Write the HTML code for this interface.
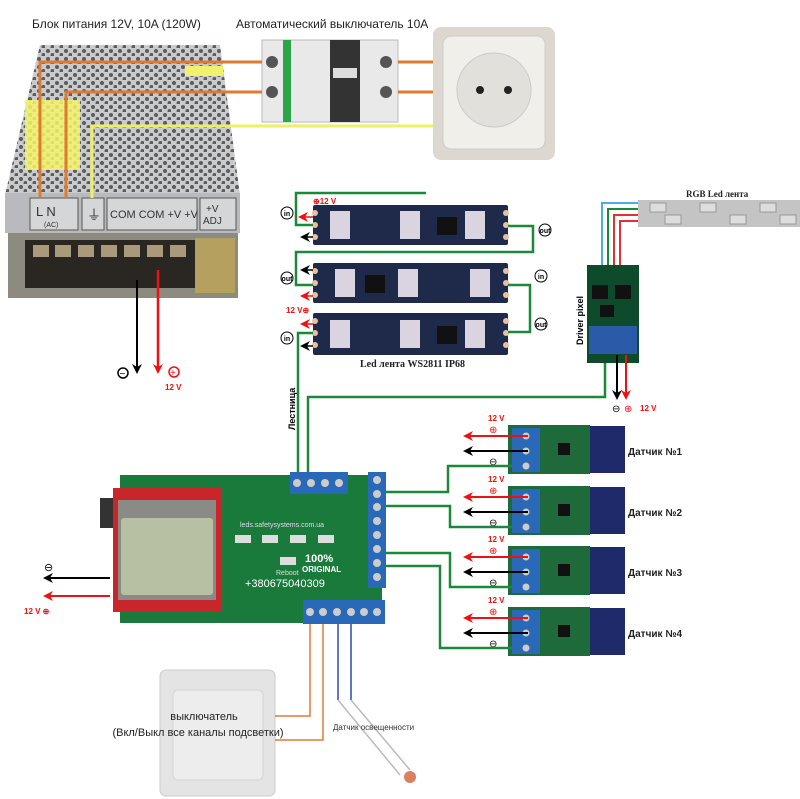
<!DOCTYPE html>
<html><head><meta charset="utf-8"><style>
html,body{margin:0;padding:0;background:#fff}
svg{display:block;font-family:"Liberation Sans",sans-serif}
</style></head><body>
<svg width="800" height="799" viewBox="0 0 800 799" xmlns="http://www.w3.org/2000/svg">
<defs>
<pattern id="perf" width="9" height="8" patternUnits="userSpaceOnUse">
<rect width="9" height="8" fill="#c9cbcd"/><circle cx="3" cy="3" r="2" fill="#5a5c60"/><circle cx="7.5" cy="7" r="2" fill="#5a5c60"/>
</pattern>
<marker id="ar" markerUnits="userSpaceOnUse" markerWidth="10" markerHeight="10" refX="8" refY="5" orient="auto"><path d="M0,0 L10,5 L0,10 L3,5 Z" fill="#e11"/></marker>
<marker id="ab" markerUnits="userSpaceOnUse" markerWidth="10" markerHeight="10" refX="8" refY="5" orient="auto"><path d="M0,0 L10,5 L0,10 L3,5 Z" fill="#000"/></marker>
</defs>

<text x="32" y="28" font-size="12" fill="#222">Блок питания 12V, 10A (120W)</text>
<text x="236" y="28" font-size="12" fill="#222">Автоматический выключатель 10А</text>

<!-- PSU -->
<polygon points="40,45 220,45 240,195 5,195" fill="url(#perf)"/>
<rect x="5" y="193" width="235" height="40" fill="#b8babd"/>
<rect x="30" y="198" width="48" height="32" fill="#d5d6d8" stroke="#555"/>
<rect x="82" y="198" width="22" height="32" fill="#d5d6d8" stroke="#555"/>
<rect x="107" y="198" width="90" height="32" fill="#d5d6d8" stroke="#555"/>
<rect x="200" y="198" width="36" height="32" fill="#d5d6d8" stroke="#555"/>
<text x="36" y="216" font-size="13" fill="#333">L  N</text>
<text x="44" y="227" font-size="7" fill="#333">(AC)</text>
<text x="87" y="220" font-size="14" fill="#333">⏚</text>
<text x="110" y="218" font-size="11" fill="#333">COM COM +V +V</text>
<text x="206" y="212" font-size="10" fill="#333">+V</text>
<text x="203" y="224" font-size="10" fill="#333">ADJ</text>
<rect x="8" y="233" width="230" height="65" fill="#8d8a80"/>
<rect x="25" y="240" width="172" height="48" fill="#2a2622"/>
<g fill="#a89a7a"><rect x="33" y="245" width="16" height="12"/><rect x="55" y="245" width="16" height="12"/><rect x="78" y="245" width="16" height="12"/><rect x="101" y="245" width="16" height="12"/><rect x="124" y="245" width="16" height="12"/><rect x="147" y="245" width="16" height="12"/><rect x="170" y="245" width="16" height="12"/></g>
<rect x="195" y="238" width="40" height="55" fill="#b5a060"/>
<rect x="185" y="66" width="38" height="10" fill="#f2f26a"/>
<rect x="25" y="100" width="55" height="70" fill="#f4f46a" opacity=".85"/>

<!-- breaker -->
<rect x="262" y="40" width="136" height="82" fill="#e9e9e9" stroke="#bbb"/>
<rect x="283" y="40" width="8" height="82" fill="#2ca44a"/>
<rect x="330" y="40" width="30" height="82" fill="#333"/>
<rect x="333" y="68" width="24" height="10" fill="#ddd"/>
<circle cx="272" cy="62" r="6" fill="#555"/><circle cx="272" cy="92" r="6" fill="#555"/>
<circle cx="386" cy="62" r="6" fill="#555"/><circle cx="386" cy="92" r="6" fill="#555"/>

<!-- socket -->
<rect x="433" y="27" width="122" height="133" rx="8" fill="#dcd8d0"/>
<rect x="443" y="36" width="102" height="113" rx="8" fill="#f1efea" stroke="#ccc"/>
<circle cx="494" cy="90" r="37" fill="#e2e0da" stroke="#ccc"/>
<circle cx="480" cy="90" r="4" fill="#222"/><circle cx="508" cy="90" r="4" fill="#222"/>

<g fill="none" stroke-width="3">
<polyline points="40,198 40,62 262,62" stroke="#e07a30"/>
<polyline points="66,198 66,92 262,92" stroke="#e07a30"/>
<line x1="398" y1="62" x2="433" y2="62" stroke="#e07a30"/>
<line x1="398" y1="92" x2="433" y2="92" stroke="#e07a30"/>
<polyline points="92,198 92,126 433,126" stroke="#efef60"/>
</g>
<line x1="137" y1="280" x2="137" y2="372" stroke="#000" stroke-width="2" marker-end="url(#ab)"/>
<line x1="158" y1="270" x2="158" y2="372" stroke="#e11" stroke-width="2.5" marker-end="url(#ar)"/>
<circle cx="123" cy="373" r="5" fill="none" stroke="#000" stroke-width="1.5"/><text x="119.5" y="377" font-size="10">−</text>
<circle cx="174" cy="372" r="5" fill="none" stroke="#e11" stroke-width="1.5"/><text x="170" y="376" font-size="10" fill="#e11">+</text>
<text x="165" y="390" font-size="8" fill="#e11" font-weight="bold">12 V</text>

<!-- LED strips -->
<g fill="#1f2a4a">
<rect x="313" y="205" width="195" height="40" rx="2"/>
<rect x="313" y="263" width="195" height="40" rx="2"/>
<rect x="313" y="313" width="195" height="42" rx="2"/>
</g>
<g fill="#d9d4df">
<rect x="330" y="211" width="20" height="28"/><rect x="400" y="211" width="20" height="28"/><rect x="465" y="211" width="20" height="28"/>
<rect x="335" y="269" width="20" height="28"/><rect x="398" y="269" width="20" height="28"/><rect x="470" y="269" width="20" height="28"/>
<rect x="330" y="320" width="20" height="28"/><rect x="400" y="320" width="20" height="28"/><rect x="465" y="320" width="20" height="28"/>
</g>
<g fill="#111"><rect x="437" y="217" width="20" height="18"/><rect x="365" y="275" width="20" height="18"/><rect x="437" y="326" width="20" height="18"/></g>
<g fill="#e8c0a0"><circle cx="315" cy="213" r="3"/><circle cx="315" cy="225" r="3"/><circle cx="315" cy="237" r="3"/><circle cx="506" cy="213" r="3"/><circle cx="506" cy="225" r="3"/><circle cx="506" cy="237" r="3"/>
<circle cx="315" cy="271" r="3"/><circle cx="315" cy="283" r="3"/><circle cx="315" cy="295" r="3"/><circle cx="506" cy="271" r="3"/><circle cx="506" cy="283" r="3"/><circle cx="506" cy="295" r="3"/>
<circle cx="315" cy="321" r="3"/><circle cx="315" cy="333" r="3"/><circle cx="315" cy="345" r="3"/><circle cx="506" cy="321" r="3"/><circle cx="506" cy="333" r="3"/><circle cx="506" cy="345" r="3"/></g>
<text x="360" y="367" font-size="10" font-weight="bold" fill="#222" font-family="Liberation Serif,serif">Led лента WS2811 IP68</text>

<g fill="none" stroke="#1a8a3a" stroke-width="2.5">
<polyline points="426,193 296,193 296,225 313,225"/>
<polyline points="508,226 533,226 533,252 296,252 296,285 313,285"/>
<polyline points="508,285 530,285 530,332 508,332"/>
<polyline points="313,333 298,333 298,472"/>
<polyline points="308,472 308,397 605,397 605,363"/>
</g>
<g font-size="7" font-weight="bold" text-anchor="middle">
<circle cx="287" cy="213" r="6" fill="#fff" stroke="#000"/><text x="287" y="216">in</text>
<circle cx="287" cy="278" r="6" fill="#fff" stroke="#000"/><text x="287" y="281">out</text>
<circle cx="287" cy="338" r="6" fill="#fff" stroke="#000"/><text x="287" y="341">in</text>
<circle cx="545" cy="230" r="6" fill="#fff" stroke="#000"/><text x="545" y="233">out</text>
<circle cx="541" cy="276" r="6" fill="#fff" stroke="#000"/><text x="541" y="279">in</text>
<circle cx="541" cy="324" r="6" fill="#fff" stroke="#000"/><text x="541" y="327">out</text>
</g>
<g stroke-width="1.5">
<line x1="313" y1="217" x2="300" y2="217" stroke="#e11" marker-end="url(#ar)"/>
<line x1="313" y1="237" x2="302" y2="237" stroke="#000" marker-end="url(#ab)"/>
<line x1="313" y1="296" x2="302" y2="296" stroke="#e11" marker-end="url(#ar)"/>
<line x1="313" y1="324" x2="302" y2="324" stroke="#e11" marker-end="url(#ar)"/>
<line x1="313" y1="346" x2="302" y2="346" stroke="#000" marker-end="url(#ab)"/>
<line x1="313" y1="270" x2="302" y2="270" stroke="#000" marker-end="url(#ab)"/>
</g>
<text x="313" y="204" font-size="8" fill="#e11" font-weight="bold">⊕12 V</text>
<text x="286" y="313" font-size="8" fill="#e11" font-weight="bold">12 V⊕</text>

<!-- RGB strip -->
<text x="686" y="197" font-size="9" font-weight="bold" fill="#222" font-family="Liberation Serif,serif">RGB Led лента</text>
<rect x="638" y="200" width="162" height="27" fill="#c4c4c4"/>
<g fill="#ddd" stroke="#999"><rect x="650" y="203" width="16" height="9"/><rect x="700" y="203" width="16" height="9"/><rect x="760" y="203" width="16" height="9"/><rect x="665" y="215" width="16" height="9"/><rect x="730" y="215" width="16" height="9"/><rect x="780" y="215" width="16" height="9"/></g>
<g fill="none" stroke-width="2">
<polyline points="638,203 602,203 602,270" stroke="#4ab0d8"/>
<polyline points="638,209 608,209 608,270" stroke="#1a8a3a"/>
<polyline points="638,215 614,215 614,270" stroke="#d33"/>
<polyline points="638,221 620,221 620,270" stroke="#d33"/>
</g>
<rect x="587" y="265" width="52" height="98" fill="#0e4a2c"/>
<rect x="589" y="326" width="48" height="28" fill="#2a5aa8"/>
<rect x="592" y="285" width="16" height="14" fill="#111"/><rect x="615" y="285" width="16" height="14" fill="#111"/><rect x="600" y="305" width="14" height="12" fill="#111"/>
<text x="0" y="0" font-size="9" font-weight="bold" transform="translate(583,345) rotate(-90)">Driver pixel</text>
<line x1="617" y1="355" x2="617" y2="398" stroke="#000" stroke-width="2" marker-end="url(#ab)"/>
<line x1="626" y1="355" x2="626" y2="398" stroke="#e11" stroke-width="2" marker-end="url(#ar)"/>
<text x="612" y="412" font-size="10">⊖</text><text x="624" y="412" font-size="10" fill="#e11">⊕</text>
<text x="640" y="411" font-size="8" fill="#e11" font-weight="bold">12 V</text>

<text x="0" y="0" font-size="9" font-weight="bold" transform="translate(295,430) rotate(-90)">Лестница</text>

<!-- controller -->
<rect x="120" y="475" width="262" height="148" fill="#1a7a3c"/>
<rect x="100" y="498" width="15" height="30" fill="#333"/>
<rect x="113" y="488" width="109" height="124" fill="#c8262a"/>
<rect x="118" y="500" width="98" height="100" fill="#8a8a86"/>
<rect x="121" y="518" width="92" height="77" rx="3" fill="#b8c0a4"/>
<rect x="290" y="472" width="58" height="22" fill="#2a68b8"/>
<g fill="#ccc"><circle cx="297" cy="483" r="4"/><circle cx="311" cy="483" r="4"/><circle cx="325" cy="483" r="4"/><circle cx="339" cy="483" r="4"/></g>
<rect x="368" y="472" width="18" height="116" fill="#2a68b8"/>
<g fill="#ccc"><circle cx="377" cy="480" r="4"/><circle cx="377" cy="494" r="4"/><circle cx="377" cy="507" r="4"/><circle cx="377" cy="521" r="4"/><circle cx="377" cy="535" r="4"/><circle cx="377" cy="549" r="4"/><circle cx="377" cy="563" r="4"/><circle cx="377" cy="577" r="4"/></g>
<rect x="303" y="600" width="82" height="24" fill="#2a68b8"/>
<g fill="#ccc"><circle cx="310" cy="612" r="4"/><circle cx="323" cy="612" r="4"/><circle cx="337" cy="612" r="4"/><circle cx="351" cy="612" r="4"/><circle cx="364" cy="612" r="4"/><circle cx="377" cy="612" r="4"/></g>
<text x="240" y="527" font-size="7" fill="#dde">leds.safetysystems.com.ua</text>
<g fill="#ddd"><rect x="235" y="535" width="16" height="8"/><rect x="262" y="535" width="16" height="8"/><rect x="290" y="535" width="16" height="8"/><rect x="318" y="535" width="16" height="8"/><rect x="280" y="557" width="16" height="8"/></g>
<text x="305" y="562" font-size="11" font-weight="bold" fill="#fff">100%</text>
<text x="302" y="572" font-size="8" font-weight="bold" fill="#fff">ORIGINAL</text>
<text x="276" y="575" font-size="7" fill="#ddd">Reboot</text>
<text x="245" y="587" font-size="11" fill="#fff">+380675040309</text>
<line x1="110" y1="578" x2="45" y2="578" stroke="#000" stroke-width="2" marker-end="url(#ab)"/>
<line x1="110" y1="596" x2="45" y2="596" stroke="#e11" stroke-width="2" marker-end="url(#ar)"/>
<text x="44" y="571" font-size="11">⊖</text>
<text x="24" y="614" font-size="8" fill="#e11" font-weight="bold">12 V ⊕</text>

<!-- sensors -->
<g id="s">
<rect x="508" y="425" width="82" height="49" fill="#1f6a3a"/>
<rect x="590" y="426" width="35" height="47" fill="#1e2a6a"/>
<rect x="512" y="428" width="28" height="44" fill="#2a68b8"/>
<g fill="#ccc"><circle cx="526" cy="436" r="3.5"/><circle cx="526" cy="451" r="3.5"/><circle cx="526" cy="466" r="3.5"/></g>
<rect x="558" y="443" width="12" height="12" fill="#111"/>
<line x1="528" y1="436" x2="465" y2="436" stroke="#e11" stroke-width="2" marker-end="url(#ar)"/>
<line x1="528" y1="451" x2="465" y2="451" stroke="#000" stroke-width="2" marker-end="url(#ab)"/>
<text x="489" y="433" font-size="10" fill="#e11">⊕</text>
<text x="488" y="421" font-size="8" fill="#e11" font-weight="bold">12 V</text>
<text x="489" y="465" font-size="10">⊖</text>
</g>
<use href="#s" y="61"/><use href="#s" y="121"/><use href="#s" y="182"/>
<g font-size="10" font-weight="bold" fill="#222">
<text x="628" y="455">Датчик №1</text><text x="628" y="516">Датчик №2</text><text x="628" y="576">Датчик №3</text><text x="628" y="637">Датчик №4</text>
</g>
<g fill="none" stroke="#1a8a3a" stroke-width="2.5">
<polyline points="512,466 448,466 448,492 385,492"/>
<polyline points="512,527 450,527 450,506 385,506"/>
<polyline points="512,587 450,587 450,553 385,553"/>
<polyline points="512,648 440,648 440,566 385,566"/>
</g>

<!-- switch and light sensor -->
<rect x="160" y="670" width="115" height="126" rx="6" fill="#e4e4e4" stroke="#ccc"/>
<rect x="173" y="690" width="90" height="90" rx="5" fill="#ededed" stroke="#d4d4d4"/>
<text x="204" y="720" font-size="11" text-anchor="middle" fill="#222">выключатель</text>
<text x="198" y="736" font-size="11" text-anchor="middle" fill="#222">(Вкл/Выкл все каналы подсветки)</text>
<g fill="none" stroke-width="1.5">
<polyline points="310,624 310,716 275,716" stroke="#e07a30"/>
<polyline points="323,624 323,740 275,740" stroke="#e07a30"/>
<line x1="338" y1="624" x2="338" y2="700" stroke="#2a4aa8"/>
<line x1="351" y1="624" x2="351" y2="700" stroke="#2a4aa8"/>
<line x1="338" y1="700" x2="400" y2="775" stroke="#bbb"/>
<line x1="351" y1="700" x2="410" y2="770" stroke="#bbb"/>
</g>
<circle cx="410" cy="777" r="6" fill="#d88060"/>
<text x="333" y="730" font-size="8" fill="#333">Датчик освещенности</text>
</svg>
</body></html>
